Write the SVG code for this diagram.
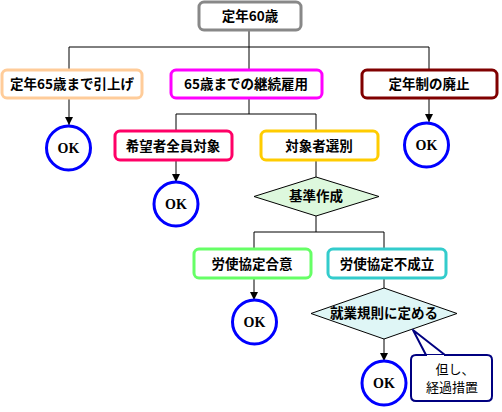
<svg xmlns="http://www.w3.org/2000/svg" width="502" height="412" viewBox="0 0 502 412">
<defs>
<style>
.box{fill:#fff;stroke-width:3}
.t{font-family:"Noto Sans CJK JP","Noto Sans CJK SC",sans-serif;font-size:13.5px;font-weight:bold;text-anchor:middle;fill:#000}
.ok{fill:#fff;stroke:#0000ff;stroke-width:3}
.okt{font-family:"Liberation Serif",serif;font-size:14px;font-weight:bold;text-anchor:middle;fill:#000}
.ln{stroke:#000;stroke-width:1;fill:none}
.ct{font-family:"Noto Sans CJK JP","Noto Sans CJK SC",sans-serif;font-size:13px;text-anchor:middle;fill:#000}
</style>
<marker id="ah" viewBox="0 0 9 8" refX="4.5" refY="8" markerWidth="9" markerHeight="8" markerUnits="userSpaceOnUse" orient="auto-start-reverse">
<path d="M0,0 L9,0 L4.5,8 Z" fill="#000"/>
</marker>
</defs>
<rect width="502" height="412" fill="#fff"/>
<g id="connectors">
<path class="ln" d="M249,30 V47 M69,47 H429 M69,47 V69 M249,47 V69 M429,47 V69"/>
<path class="ln" d="M69,98 V125" transform="translate(0,0)"/>
<path class="ln" d="M429,98 V122"/>
<path class="ln" d="M249,98 V114 M176,114 H316 M176,114 V131 M316,114 V131"/>
<path class="ln" d="M176,161 V182"/>
<path class="ln" d="M316,161 V177 M316,216 V232 M254,232 H384 M254,232 V248 M384,232 V248"/>
<path class="ln" d="M254,279 V300"/>
<path class="ln" d="M384,279 V288"/>
<path class="ln" d="M384,339 V361"/>
<path d="M65,117 H73 L69,125 Z M425,114 H433 L429,122 Z M172,174 H180 L176,182 Z M250,292 H258 L254,300 Z M380,353 H388 L384,361 Z" fill="#000"/>
</g>
<g id="n-top"><rect class="box" x="199" y="2" width="102" height="28" rx="5" stroke="#888888"/><text class="t" x="250" y="21">定年60歳</text></g>
<g id="n-65"><rect class="box" x="2" y="70" width="140" height="28" rx="5" stroke="#ffcc99"/><text class="t" x="72" y="89">定年65歳まで引上げ</text></g>
<g id="n-keizoku"><rect class="box" x="171" y="70" width="151" height="28" rx="5" stroke="#ff00ff"/><text class="t" x="246" y="89">65歳までの継続雇用</text></g>
<g id="n-haishi"><rect class="box" x="362" y="70" width="135" height="28" rx="5" stroke="#800000"/><text class="t" x="429" y="89">定年制の廃止</text></g>
<g id="ok1"><circle class="ok" cx="68.5" cy="148" r="22"/><text class="okt" x="68.5" y="153">OK</text></g>
<g id="ok2"><circle class="ok" cx="426.5" cy="145" r="22"/><text class="okt" x="426.5" y="150">OK</text></g>
<g id="n-kibou"><rect class="box" x="115" y="131" width="117" height="29" rx="5" stroke="#ff0066"/><text class="t" x="173" y="151">希望者全員対象</text></g>
<g id="n-senbetsu"><rect class="box" x="261" y="131" width="117" height="29" rx="5" stroke="#ffcc00"/><text class="t" x="319" y="151">対象者選別</text></g>
<g id="ok3"><circle class="ok" cx="176" cy="204" r="22"/><text class="okt" x="176" y="209">OK</text></g>
<g id="d-kijun"><polygon points="316,177 379,196.5 316,216 254,196.5" fill="#ddf8dd" stroke="#000" stroke-width="1"/><text class="t" x="316" y="201">基準作成</text></g>
<g id="n-goui"><rect class="box" x="194" y="249" width="117" height="29" rx="5" stroke="#66ff66"/><text class="t" x="252" y="269">労使協定合意</text></g>
<g id="n-fuseiritsu"><rect class="box" x="328" y="249" width="118" height="29" rx="5" stroke="#33cccc"/><text class="t" x="387" y="269">労使協定不成立</text></g>
<g id="ok4"><circle class="ok" cx="254.5" cy="322" r="22"/><text class="okt" x="254.5" y="327">OK</text></g>
<g id="d-kisoku"><polygon points="384,288 457,313.5 384,339 311,313.5" fill="#dff6f6" stroke="#000" stroke-width="1"/><text class="t" x="384" y="318">就業規則に定める</text></g>
<g id="ok5"><circle class="ok" cx="384" cy="383" r="22"/><text class="okt" x="384" y="388">OK</text></g>
<g id="callout"><path d="M419,355 H487 Q492,355 492,360 V396 Q492,401 487,401 H416 Q411,401 411,396 V360 Q411,355 416,355 H426 L413,330 L445,355" fill="#fff" stroke="#000080" stroke-width="2" stroke-linejoin="round"/><path d="M427,356 L444,356" stroke="#fff" stroke-width="2"/><text class="ct" x="455" y="374">但し、</text><text class="ct" x="452" y="392">経過措置</text></g>
</svg>
